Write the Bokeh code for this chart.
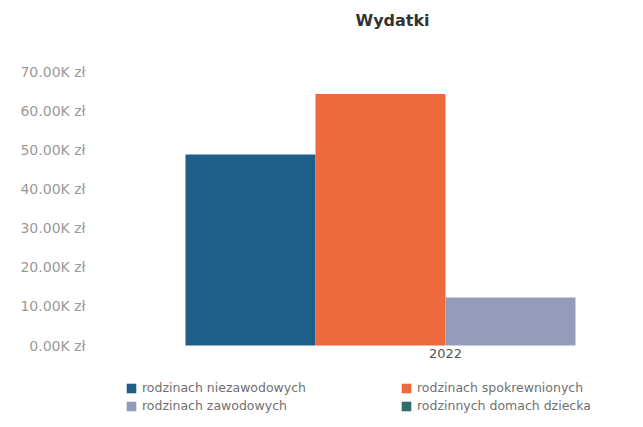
from bokeh.plotting import figure
from bokeh.models import (Range1d, FixedTicker, CustomJSTickFormatter, Legend, LegendItem,
                          ColumnDataSource, Title)
from bokeh.transform import dodge
from bokeh.embed import file_html
from bokeh.resources import INLINE

# ---- data ----
categories = ["2022"]
series = ["rodzinach niezawodowych", "rodzinach spokrewnionych",
          "rodzinach zawodowych", "rodzinnych domach dziecka"]
values = [49000, 64500, 12300, 0]
colors = ["#1f5e88", "#ee6a3c", "#959cba", "#2d6e6c"]
y_ticks = [0, 10000, 20000, 30000, 40000, 50000, 60000, 70000]

FONT = "DejaVu Sans"

# frame reaches down to the legend; the value axis starts at 0 inside it
p = figure(frame_width=542, frame_height=355, output_backend="svg", toolbar_location=None,
           x_range=Range1d(-0.5415, 0.2923), y_range=Range1d(-18460, 72560),
           min_border_left=93, min_border_right=0, min_border_top=62,
           min_border_bottom=0)
p.title = None
t = Title(text="Wydatki", align="left", offset=262, text_font=FONT,
          text_font_size="16px", text_font_style="bold", text_color="#333333",
          standoff=40)
try:
    t.padding = dict(left=0, right=0, top=0, bottom=28)
    t.standoff = 10
except Exception:
    t.standoff = 40
p.add_layout(t, "above")

n = len(series)
bar_w = 0.2
renderers = []
for j, (name, col) in enumerate(zip(series, colors)):
    src = ColumnDataSource(dict(x=list(range(len(categories))), top=[values[j]]))
    off = (j - (n - 1) / 2) * bar_w
    r = p.vbar(x=dodge("x", off), top="top", bottom=0, width=bar_w, source=src,
               fill_color=col, line_color=None)
    renderers.append(r)

p.xgrid.visible = False
p.ygrid.visible = False
p.outline_line_color = None

p.yaxis.ticker = FixedTicker(ticks=y_ticks)
p.yaxis.formatter = CustomJSTickFormatter(code="return (tick/1000).toFixed(2) + 'K zł';")
p.xaxis.ticker = FixedTicker(ticks=list(range(len(categories))))
p.xaxis.formatter = CustomJSTickFormatter(args=dict(cats=categories),
                                          code="return cats[Math.round(tick)] || '';")
p.xaxis.fixed_location = 0
for ax in (p.xaxis[0], p.yaxis[0]):
    ax.axis_line_color = None
    ax.major_tick_line_color = None
    ax.minor_tick_line_color = None
    ax.major_tick_out = 0
    ax.major_label_text_font = FONT
p.yaxis.major_label_text_font_size = "14px"
p.yaxis.major_label_text_color = "#9a9a9a"
p.yaxis.major_label_standoff = 8
p.xaxis.major_label_text_font_size = "13px"
p.xaxis.major_label_text_color = "#555555"
p.xaxis.major_label_standoff = 3

order = [0, 2, 1, 3]
lg = Legend(items=[LegendItem(label=series[i], renderers=[renderers[i]]) for i in order],
            location=(32, 4), orientation="vertical", ncols=2,
            label_text_font=FONT, label_text_font_size="12.5px",
            label_text_color="#707070", glyph_width=12, glyph_height=12,
            label_height=12, label_width=255, spacing=3, padding=0, margin=0,
            label_standoff=5, border_line_color=None,
            background_fill_alpha=0)
p.add_layout(lg, "center")

open("out.html", "w").write(file_html(p, INLINE))
